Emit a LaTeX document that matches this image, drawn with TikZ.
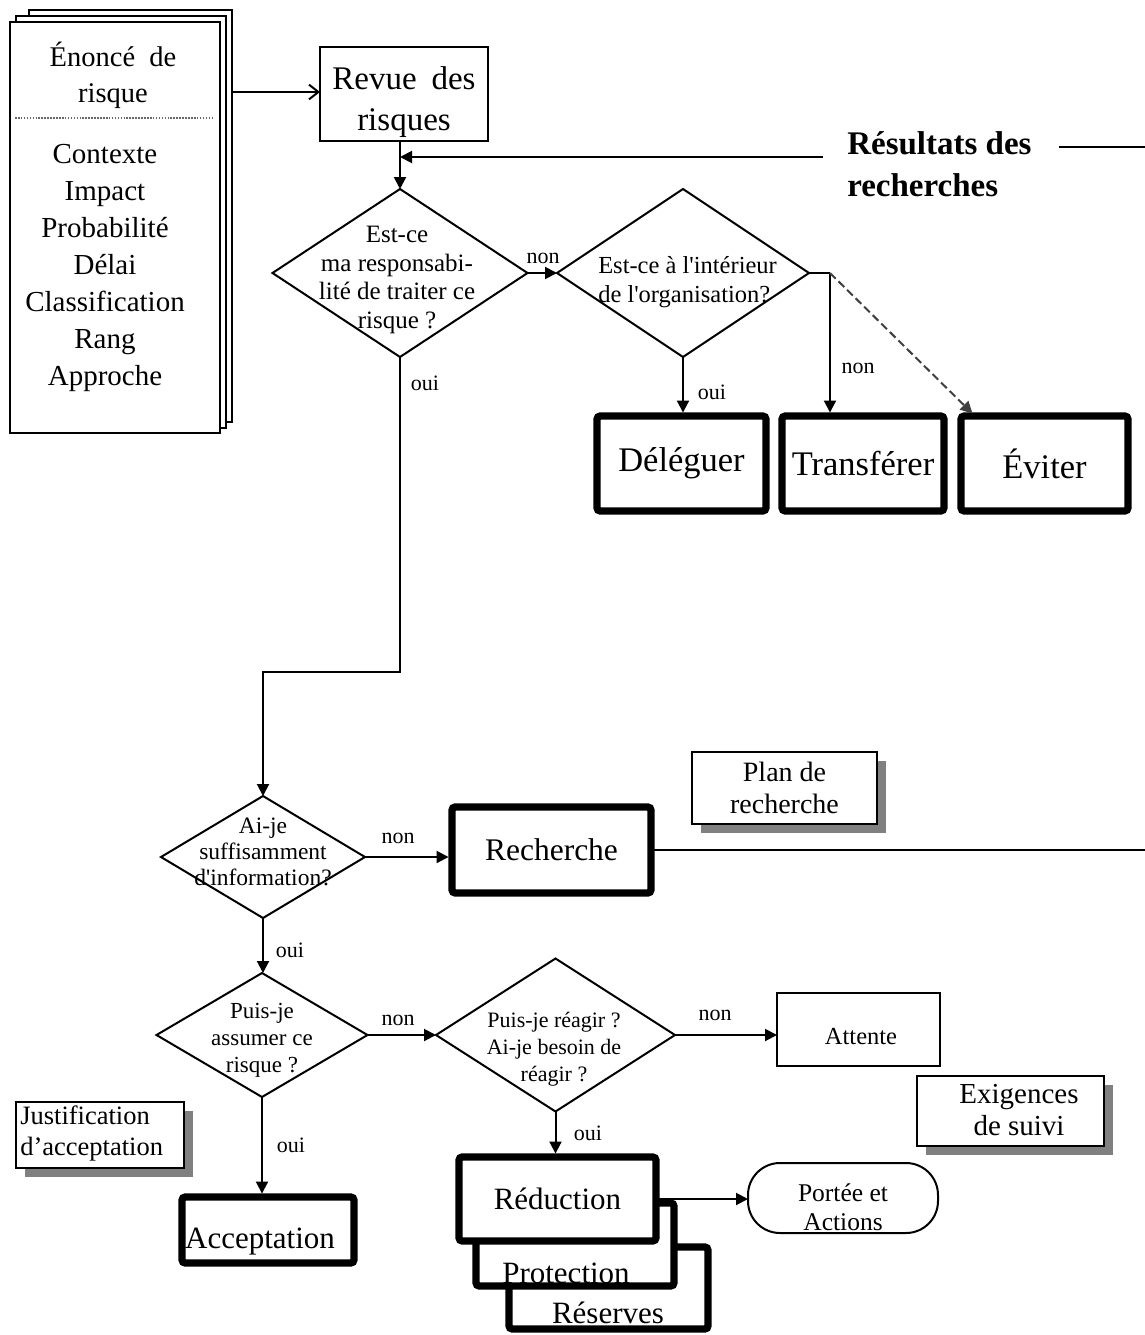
\documentclass[tikz,border=0pt]{standalone}
\usepackage{fontspec}
\setmainfont{Liberation Serif}[Ligatures=TeXOff]
\usetikzlibrary{arrows.meta,shapes.geometric,shadows,calc}
\newcommand\fpx[2]{\fontsize{\fpeval{#1*0.75}pt}{\fpeval{#2*0.75}pt}\selectfont}
\def\PX{0.75pt}
\begin{document}
\begin{tikzpicture}[x=0.75pt,y=-0.75pt,
 box/.style={draw,line width=1.5pt,fill=white,inner sep=0pt,outer sep=0pt},
 thickbox/.style={draw,line width=5.5pt,rounded corners=2.5pt,fill=white,inner sep=0pt,outer sep=0pt},
 dia/.style={draw,diamond,line width=1.5pt,inner sep=0pt,outer sep=0pt},
 shbox/.style={box,general shadow={fill=black!50,shadow xshift=7pt,shadow yshift=-7pt}},
 txt/.style={inner sep=0pt,align=center},
 lbl/.style={inner sep=0pt,font=\fpx{22}{26}},
 ln/.style={line width=1.5pt},
 arr/.style={line width=1.5pt,-{Triangle[length=9pt,width=9pt]}},
 arrT/.style={arr,shorten >=2.6pt},
]
\fill[white] (0,0) rectangle (1145,1335);
\useasboundingbox (0,0) rectangle (1145,1335);

% document stack
\node[box,minimum width=203*\PX,minimum height=412*\PX] (docb) at (130.5,216) {};
\node[box,minimum width=210*\PX,minimum height=412*\PX] (docm) at (121,222) {};
\node[box,minimum width=210*\PX,minimum height=411*\PX] (doc) at (115,227.5) {};
\draw[densely dotted,line width=1.2pt,black!60] ($(doc.north west)+(5,96)$) -- ($(doc.north east)+(-8,96)$);
\node[txt,font=\fpx{28.5}{36}] (enonce) at (113,75) {Énoncé\hspace{0.25em} de\\risque};
\node[txt,font=\fpx{29}{37}] (attrs) at (105,268) {Contexte\\Impact\\Probabilité\\Délai\\Classification\\Rang\\Approche};

% revue
\node[box,minimum width=168*\PX,minimum height=94*\PX] (revue) at (404,94) {};
\node[txt,font=\fpx{33}{41}] (revuet) at (404,102) {Revue\hspace{0.2em} des\\risques};
\draw[ln,-{Straight Barb[length=7pt,width=11pt]}] ($(docb.north east)+(0,82)$) -- ($(revue.north west)+(0,45)$);

% diamond 1
\node[dia,minimum width=255*\PX,minimum height=168*\PX] (d1) at (400,273) {};
\node[txt,font=\fpx{25}{28.5}] (d1t) at (397,280) {Est-ce\\ma responsabi-\\lité de traiter ce\\risque ?};
\draw[arr] (d1.north |- revue.south) -- (d1.north);

% résultats des recherches
\coordinate (rr) at (823,157);
\draw[arr] (rr) -- (rr -| d1.north);
\node[txt,font=\bfseries\fpx{33}{42},align=left,anchor=west] (res) at (847,164) {Résultats des\\recherches};
\coordinate (rl) at (1059,147);
\coordinate (re) at (1145,147);
\draw[ln] (rl) -- (re);

% diamond 2
\node[dia,minimum width=252*\PX,minimum height=168*\PX] (d2) at (683,273) {};
\node[txt,font=\fpx{24.5}{29},align=left,anchor=west] (d2t) at (598,282) {Est-ce à l'intérieur\\de l'organisation?};
\draw[arr] (d1.east) -- (d2.west);
\node[lbl] (l1) at (543,258) {non};

% outcome boxes
\node[thickbox,minimum width=169*\PX,minimum height=95*\PX,font=\fpx{34.5}{40}] (deleg) at (681.5,463.5) {Déléguer};
\node[thickbox,minimum width=162*\PX,minimum height=95*\PX,font=\fpx{34.5}{40}] (trans) at (863,463.5) {Transférer};
\node[thickbox,minimum width=167*\PX,minimum height=95*\PX,font=\fpx{34.5}{40}] (evit) at (1044.5,463.5) {Éviter};
\draw[arrT] (d2.south) -- (d2.south |- deleg.north);
\node[lbl] (l2) at (712,392) {oui};
\coordinate (j) at (830,273);
\draw[ln] (d2.east) -- (j);
\draw[arrT] (j) -- (j |- trans.north);
\node[lbl] (l3) at (858,368) {non};
\draw[arrT,black!75,dash pattern=on 6pt off 3pt] (j) -- ($(evit.north west)+(14,0)$);

% main vertical
\node[lbl] (l4) at (425,383) {oui};
\node[dia,minimum width=204*\PX,minimum height=122*\PX] (d3) at (263,857) {};
\coordinate (bend) at (400,672);
\draw[arr] (d1.south) -- (bend) -| (d3.north);
\node[txt,font=\fpx{23.5}{26}] (d3t) at (263,852) {Ai-je\\suffisamment\\d'information?};

% recherche
\node[thickbox,minimum width=199*\PX,minimum height=86*\PX,font=\fpx{31.5}{36}] (rech) at (551.5,850) {Recherche};
\draw[arrT] (d3.east) -- (d3.east -| rech.west);
\node[lbl] (l5) at (398,838) {non};
\coordinate (rend) at (1145,850);
\draw[ln] (rech.east) -- (rend);
\node[shbox,align=center,minimum width=185*\PX,minimum height=72*\PX,font=\fpx{28}{32}] (plan) at (784.5,788) {Plan de\\recherche};

% diamond 4
\node[dia,minimum width=211*\PX,minimum height=124*\PX] (d4) at (262,1035) {};
\node[txt,font=\fpx{23}{27}] (d4t) at (262,1040) {Puis-je\\assumer ce\\risque ?};
\draw[arr] (d3.south) -- (d3.south |- d4.north);
\node[lbl] (l6) at (290,950) {oui};

% diamond 5
\node[dia,minimum width=239*\PX,minimum height=153*\PX] (d5) at (555.5,1035) {};
\node[txt,font=\fpx{22}{27}] (d5t) at (554,1049) {Puis-je réagir ?\\Ai-je besoin de\\réagir ?};
\draw[arr] (d4.east) -- (d4.east -| d5.west);
\node[lbl] (l7) at (398,1020) {non};

% attente
\node[box,minimum width=163*\PX,minimum height=73*\PX] (att) at (858.5,1029.5) {};
\node[txt,font=\fpx{24.5}{27}] (attt) at (861,1037) {Attente};
\draw[arr] (d5.east) -- (d5.east -| att.west);
\node[lbl] (l8) at (715,1015) {non};

% exigences
\node[shbox,minimum width=187*\PX,minimum height=70*\PX] (exig) at (1010.5,1111) {};
\node[txt,font=\fpx{29}{32}] (exigt) at (1019,1110) {Exigences\\de suivi};

% reduction stack
\node[thickbox,minimum width=199*\PX,minimum height=82*\PX] (reser) at (608.5,1288) {};
\node[txt,font=\fpx{31}{36}] (resert) at (608,1313) {Réserves};
\node[thickbox,minimum width=198*\PX,minimum height=83*\PX] (prot) at (575,1244.5) {};
\node[txt,font=\fpx{31}{36}] (prott) at (566,1273) {Protection};
\node[thickbox,minimum width=197*\PX,minimum height=84*\PX,font=\fpx{31}{36}] (red) at (557.5,1199) {Réduction};
\draw[arrT] (d5.south) -- (d5.south |- red.north);
\node[lbl] (l9) at (588,1133) {oui};

% portee
\node[box,rounded corners=24pt,minimum width=190*\PX,minimum height=70*\PX] (port) at (843,1198) {};
\node[txt,font=\fpx{25.5}{29}] (portt) at (843,1207) {Portée et\\Actions};
\draw[arr] (red.east) -- (red.east -| port.west);

% acceptation
\node[thickbox,minimum width=172*\PX,minimum height=66*\PX] (acc) at (268,1230) {};
\node[txt,font=\fpx{31}{36}] (acct) at (260,1242) {Acceptation};
\draw[arrT] (d4.south) -- (d4.south |- acc.north);
\node[lbl] (l10) at (291,1145) {oui};

% justification
\node[shbox,minimum width=168*\PX,minimum height=66*\PX] (just) at (100,1135) {};
\node[txt,align=left,anchor=west,font=\fpx{26.5}{31}] (justt) at (20,1133) {Justification\\d’acceptation};
\end{tikzpicture}
\end{document}
